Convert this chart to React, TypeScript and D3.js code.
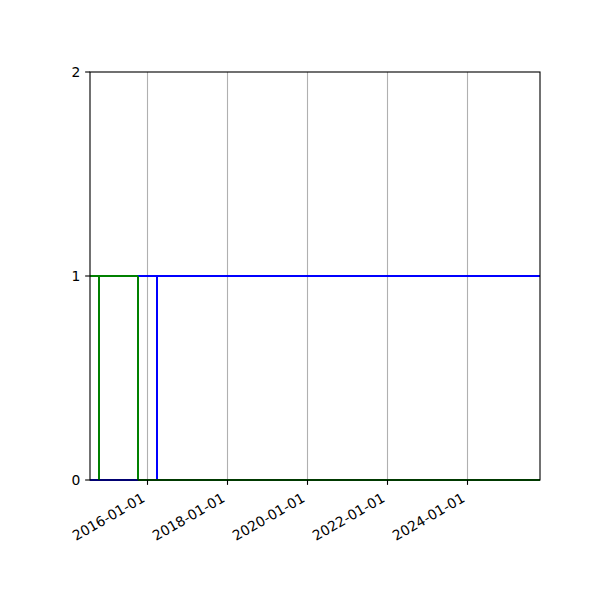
import React from "react";
import * as d3 from "d3";

// Data
const xDomain = ["2014-07-27", "2025-10-26"];
const xTickLabels = ["2016-01-01", "2018-01-01", "2020-01-01", "2022-01-01", "2024-01-01"];
const yTicks = [0, 1, 2];
const switchDate = "2015-10-11";
const greenVlines = ["2014-10-16", "2015-10-11"];
const blueVlines = ["2016-03-27"];
// horizontal segments: [start, end, value]; null start/end = axis limit
const blueHlines: [string | null, string | null, number][] = [
  [null, switchDate, 0],
  [switchDate, null, 1],
];
const greenHlines: [string | null, string | null, number][] = [
  [null, switchDate, 1],
  [switchDate, null, 0],
];

const W = 600, H = 600;
const L = 90, R = 540, T = 72, B = 480;
const FS = 13.89;
const LW = 2;
const parse = d3.timeParse("%Y-%m-%d");

export default function App() {
  const x = d3.scaleTime().domain(xDomain.map((d) => parse(d)!)).range([L, R]);
  const y = d3.scaleLinear().domain([0, 2]).range([B, T]);
  const px = (d: string | null, fallback: number) => (d ? Math.round(x(parse(d)!)) : fallback);
  const vx = (d: string) => Math.round(x(parse(d)!));
  const font = "DejaVu Sans, sans-serif";
  const tl = 4.86;
  return (
    <svg width={W} height={H} style={{ position: "absolute", left: 0, top: 0, background: "#fff" }}>
      <rect x={0} y={0} width={W} height={H} fill="#fff" />
      {xTickLabels.map((t) => {
        const xx = Math.round(x(parse(t)!)) + 0.5;
        return <line key={"g" + t} x1={xx} x2={xx} y1={T} y2={B} stroke="#b0b0b0" strokeWidth={1.11} />;
      })}
      {blueHlines.map(([a, b, v], i) => (
        <line key={"bh" + i} x1={px(a, L)} x2={px(b, R)} y1={y(v)} y2={y(v)} stroke="#0000ff" strokeWidth={LW} />
      ))}
      {blueVlines.map((d) => (
        <line key={"bv" + d} x1={vx(d)} x2={vx(d)} y1={y(0)} y2={y(1)} stroke="#0000ff" strokeWidth={LW} />
      ))}
      {greenHlines.map(([a, b, v], i) => (
        <line key={"gh" + i} x1={px(a, L)} x2={px(b, R)} y1={y(v)} y2={y(v)} stroke="#008000" strokeWidth={LW} />
      ))}
      {greenVlines.map((d) => (
        <line key={"gv" + d} x1={vx(d)} x2={vx(d)} y1={y(0)} y2={y(1)} stroke="#008000" strokeWidth={LW} />
      ))}
      <rect x={L} y={T} width={R - L} height={B - T} fill="none" stroke="#000" strokeWidth={1.11} />
      {yTicks.map((v) => (
        <g key={"y" + v}>
          <line x1={L - tl} x2={L} y1={y(v)} y2={y(v)} stroke="#000" strokeWidth={1.11} />
          <text x={L - tl - 4.86} y={y(v)} dy="0.35em" textAnchor="end" fontFamily={font} fontSize={FS}>
            {v}
          </text>
        </g>
      ))}
      {xTickLabels.map((t) => {
        const xx = Math.round(x(parse(t)!)) + 0.5;
        const ax = xx - 1.6;
        const ay = 500.8;
        return (
          <g key={"x" + t}>
            <line x1={xx} x2={xx} y1={B} y2={B + tl} stroke="#000" strokeWidth={1.11} />
            <text x={ax} y={ay} textAnchor="end" fontFamily={font} fontSize={FS} transform={`rotate(-30,${ax},${ay})`}>
              {t}
            </text>
          </g>
        );
      })}
    </svg>
  );
}
